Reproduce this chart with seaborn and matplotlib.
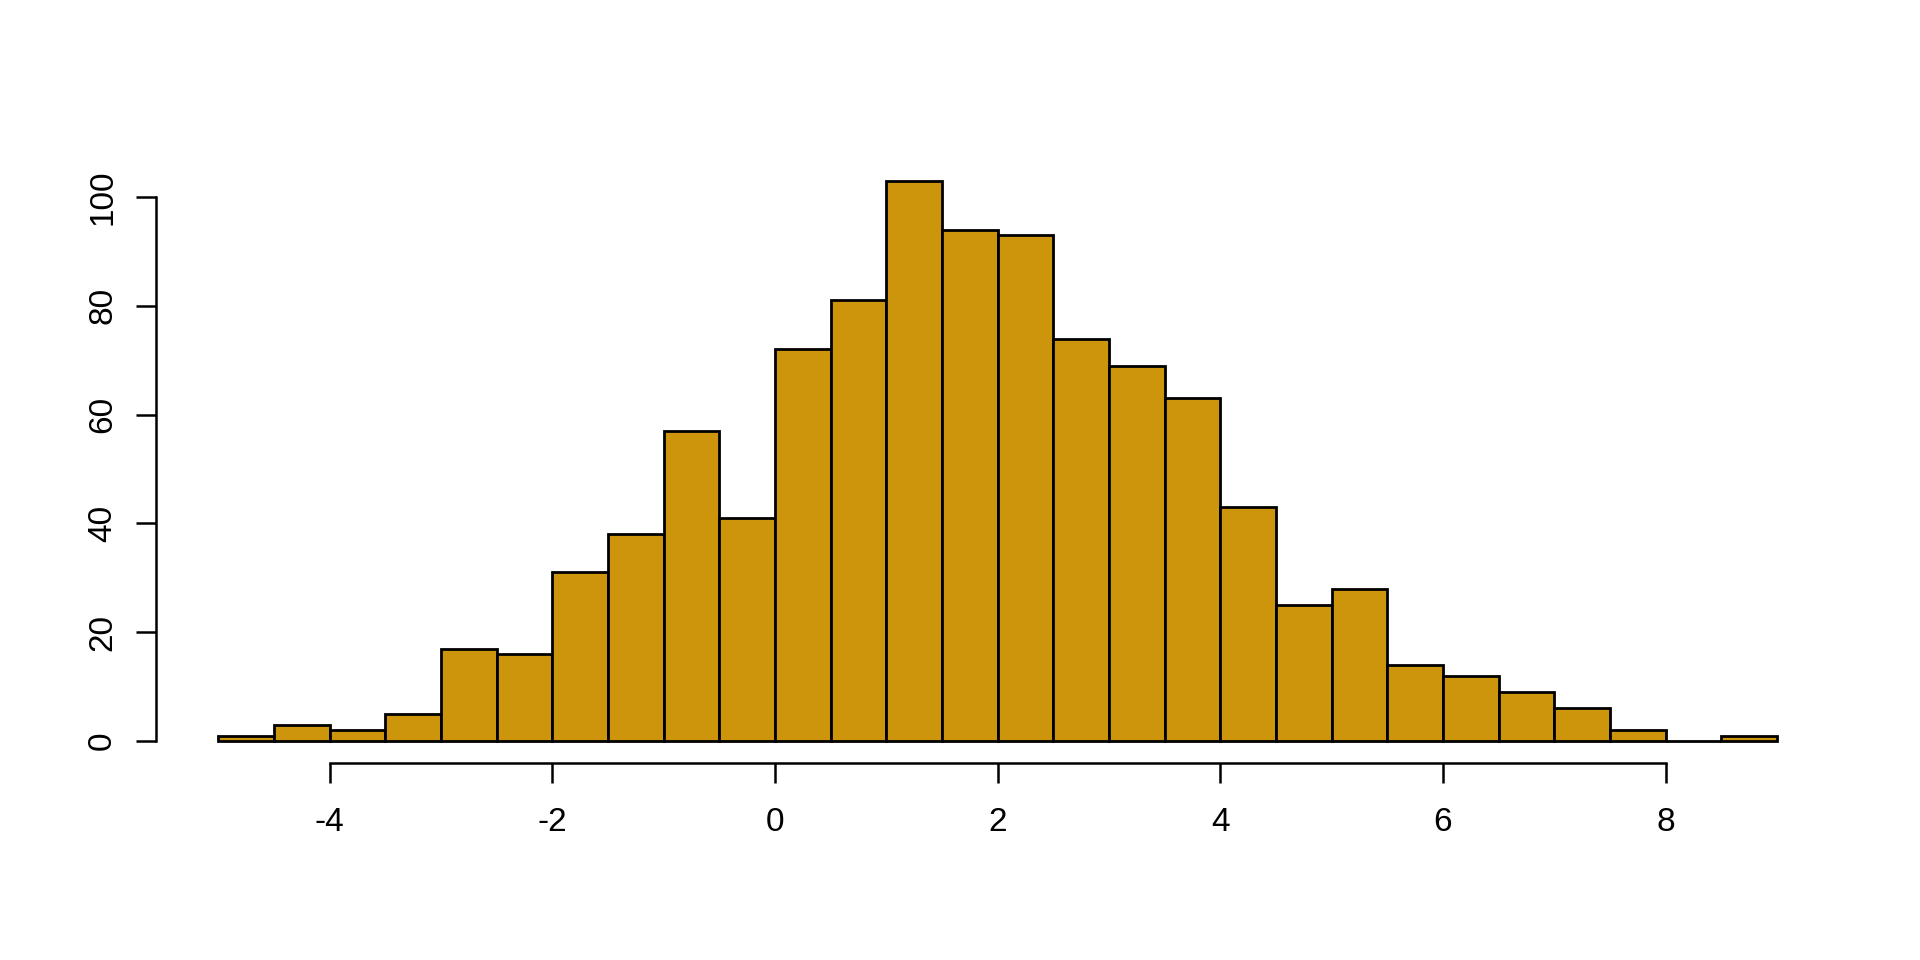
import numpy as np
import pandas as pd
import matplotlib
matplotlib.use("Agg")
import matplotlib.pyplot as plt
import seaborn as sns

# Histogram data (bin width 0.5, from -5 to 9)
bin_edges = [-5.0, -4.5, -4.0, -3.5, -3.0, -2.5, -2.0, -1.5, -1.0, -0.5, 0.0,
             0.5, 1.0, 1.5, 2.0, 2.5, 3.0, 3.5, 4.0, 4.5, 5.0, 5.5, 6.0, 6.5,
             7.0, 7.5, 8.0, 8.5, 9.0]
counts = [1, 3, 2, 5, 17, 16, 31, 38, 57, 41, 72, 81, 103, 94, 93, 74, 69, 63,
          43, 25, 28, 14, 12, 9, 6, 2, 0, 1]
x_ticks = [-4, -2, 0, 2, 4, 6, 8]
y_ticks = [0, 20, 40, 60, 80, 100]

centers = [(a + b) / 2 for a, b in zip(bin_edges[:-1], bin_edges[1:])]
df = pd.DataFrame({"x": centers, "n": counts})

sns.set_style("white")
plt.rcParams["font.family"] = ["Liberation Sans", "DejaVu Sans"]

fig = plt.figure(figsize=(19.2, 9.6), dpi=100)
ax = fig.add_axes([0.0813, 0.2048, 0.958 - 0.0813, 0.835 - 0.2048])

sns.histplot(data=df, x="x", weights="n", bins=bin_edges, ax=ax,
             color="#CD950C", edgecolor="black", linewidth=2.0, alpha=1.0)

ax.set_xlim(-5.56, 9.56)
ax.set_ylim(-4.12, 107.12)
ax.set_xticks(x_ticks)
ax.set_yticks(y_ticks)
ax.set_xticklabels([str(t) for t in x_ticks])
ax.set_yticklabels([str(t) for t in y_ticks], rotation=90, va="center")
ax.set_xlabel("")
ax.set_ylabel("")

for s in ["top", "right"]:
    ax.spines[s].set_visible(False)
ax.spines["left"].set_bounds(0, 100)
ax.spines["bottom"].set_bounds(-4, 8)
for s in ["left", "bottom"]:
    ax.spines[s].set_linewidth(1.8)
    ax.spines[s].set_color("black")

ax.tick_params(axis="both", direction="out", length=14.4, width=1.8,
               labelsize=24, colors="black", bottom=True, left=True)
ax.tick_params(axis="x", pad=17)
ax.tick_params(axis="y", pad=13)

fig.savefig("out.png", dpi=100, facecolor="white")
